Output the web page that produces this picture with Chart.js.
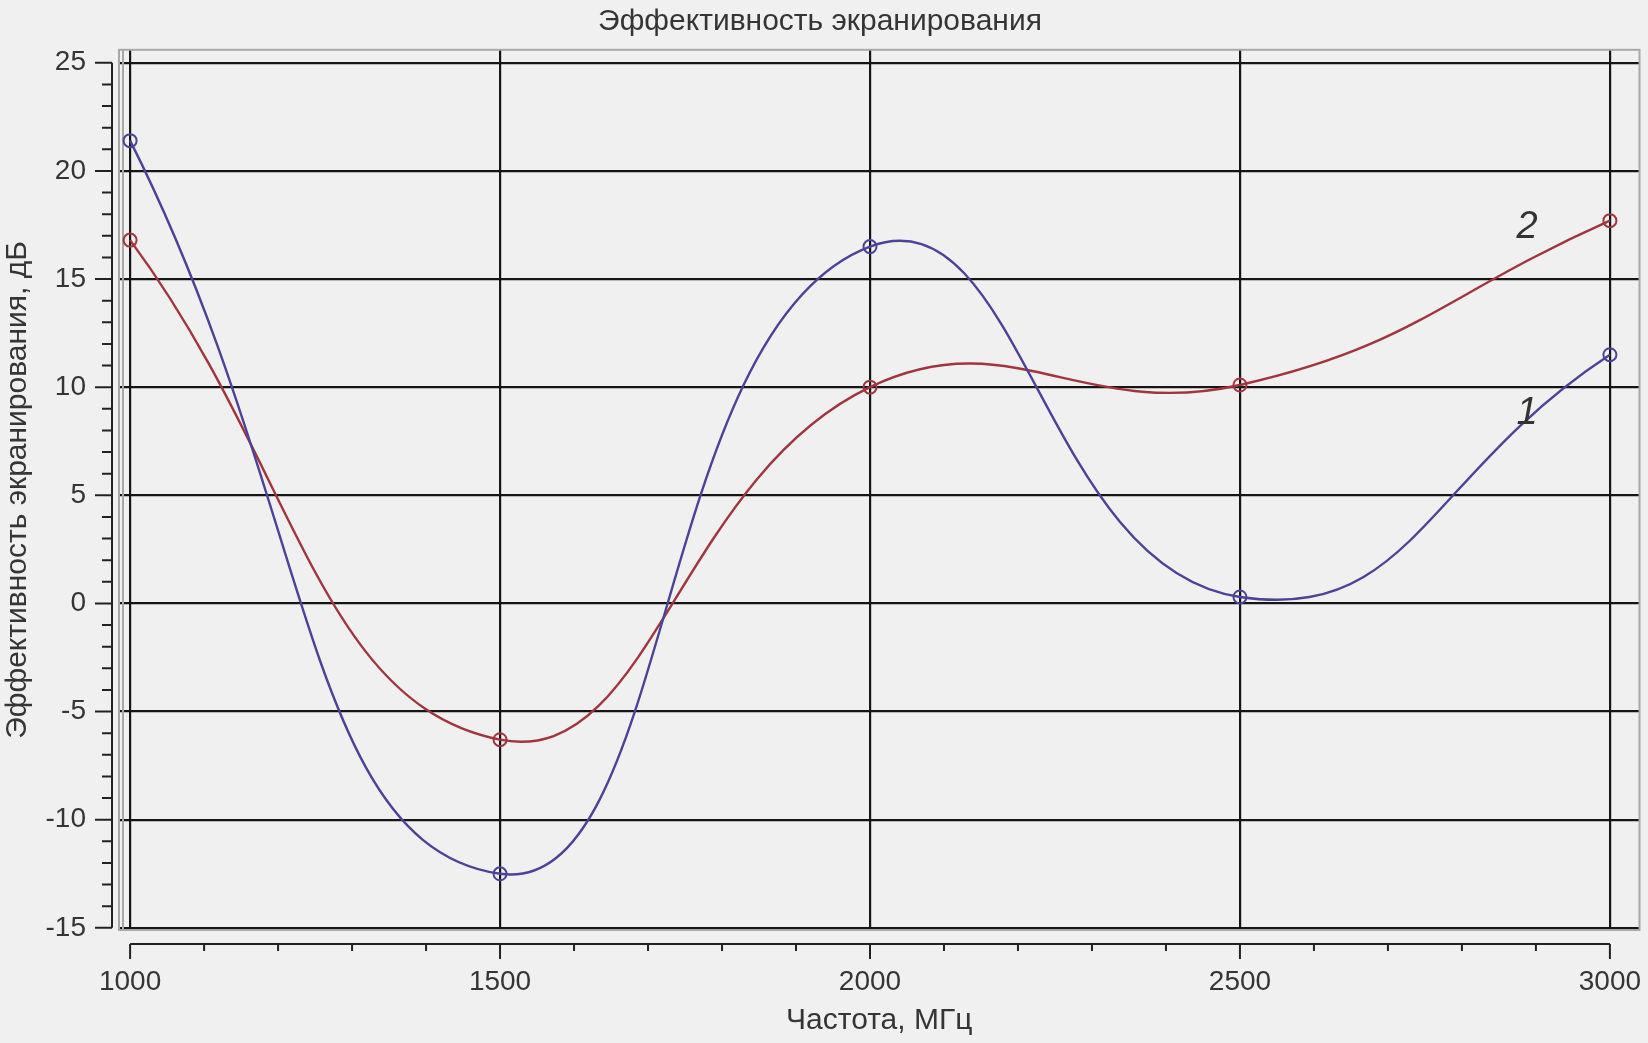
<!DOCTYPE html>
<html>
<head>
<meta charset="utf-8">
<script src="https://cdn.jsdelivr.net/npm/chart.js@4"></script>
<style>
  html, body { margin: 0; padding: 0; background: #f0f0f0; }
  #wrap { width: 1648px; height: 1043px; }
</style>
</head>
<body>
<div id="wrap"><canvas id="chart"></canvas></div>
<script>
// Frequency points, MHz
const freq = [1000, 1500, 2000, 2500, 3000];
// Curve 1 (blue) and curve 2 (red), dB
const curve1 = [21.4, -12.5, 16.5, 0.3, 11.5];
const curve2 = [16.8, -6.3, 10.0, 10.1, 17.7];
// Major tick values
const xTicks = [1000, 1500, 2000, 2500, 3000];
const yTicks = [-15, -10, -5, 0, 5, 10, 15, 20, 25];
// Curve number labels: text, x, y
const curveNames = ['1', '2'];
const curveNameX = [2888, 2888];
const curveNameY = [8.8, 17.4];

const FONT = "'Liberation Sans', Arial, sans-serif";
const TEXT = '#353535';

Chart.defaults.font.family = FONT;
Chart.defaults.color = TEXT;

// Frame, offset axes with minor ticks and the curve numbers
const decorations = {
    id: 'decorations',
    beforeDatasetsDraw(chart) {
        const { ctx, chartArea: a, scales: { x, y } } = chart;
        ctx.save();
        // gray frame around plot
        ctx.strokeStyle = '#a8a8a8';
        ctx.lineWidth = 2;
        ctx.strokeRect(a.left, a.top, a.right - a.left, a.bottom - a.top);
        ctx.beginPath();
        ctx.moveTo(a.left + 4, a.top);
        ctx.lineTo(a.left + 4, a.bottom);
        ctx.stroke();

        ctx.strokeStyle = '#222';
        ctx.lineWidth = 2;
        // y axis line
        const ax = a.left - 7;
        ctx.beginPath();
        ctx.moveTo(ax, y.getPixelForValue(25));
        ctx.lineTo(ax, y.getPixelForValue(-15));
        for (let v = -15; v <= 25; v++) {
            const py = y.getPixelForValue(v);
            const len = v % 5 === 0 ? 17 : 10;
            ctx.moveTo(ax, py);
            ctx.lineTo(ax - len, py);
        }
        ctx.stroke();

        // x axis line
        const ay = a.bottom + 14;
        ctx.beginPath();
        ctx.moveTo(x.getPixelForValue(1000), ay);
        ctx.lineTo(x.getPixelForValue(3000), ay);
        for (let v = 1000; v <= 3000; v += 100) {
            const px = x.getPixelForValue(v);
            const len = v % 500 === 0 ? 15 : 7;
            ctx.moveTo(px, ay);
            ctx.lineTo(px, ay + len);
        }
        ctx.stroke();
        ctx.restore();
    },
    afterDatasetsDraw(chart) {
        const { ctx, scales: { x, y } } = chart;
        ctx.save();
        ctx.fillStyle = '#333';
        ctx.font = 'italic 38px ' + FONT;
        ctx.textAlign = 'center';
        ctx.textBaseline = 'middle';
        curveNames.forEach((t, i) => {
            ctx.fillText(t, x.getPixelForValue(curveNameX[i]), y.getPixelForValue(curveNameY[i]));
        });
        ctx.restore();
    }
};

const toPoints = ys => freq.map((f, i) => ({ x: f, y: ys[i] }));

const lineStyle = (color, tension) => ({
    borderColor: color,
    borderWidth: 2.4,
    pointStyle: 'circle',
    pointRadius: 6.5,
    pointBorderWidth: 2,
    pointBorderColor: color,
    pointBackgroundColor: 'rgba(0,0,0,0)',
    tension: tension,
    fill: false
});

new Chart(document.getElementById('chart'), {
    type: 'line',
    data: {
        datasets: [
            { label: '1', data: toPoints(curve1), ...lineStyle('#4a4398', 0.5) },
            { label: '2', data: toPoints(curve2), ...lineStyle('#a2343e', 0.45) }
        ]
    },
    options: {
        responsive: true,
        maintainAspectRatio: false,
        animation: false,
        layout: { padding: { left: 0, right: 8, top: 0, bottom: 0 } },
        scales: {
            x: {
                type: 'linear',
                min: 985,
                max: 3040,
                afterBuildTicks: s => { s.ticks = xTicks.map(v => ({ value: v })); },
                afterFit: s => { s.height = 113; s.paddingLeft = 0; s.paddingRight = 0; },
                grid: { color: '#151515', lineWidth: 2.2, drawTicks: false },
                border: { display: false },
                ticks: {
                    color: TEXT,
                    font: { size: 28 },
                    padding: 35,
                    maxRotation: 0,
                    callback: v => String(v)
                },
                title: {
                    display: true,
                    text: 'Частота, МГц',
                    color: TEXT,
                    font: { size: 30 },
                    padding: { top: 0, bottom: 4 }
                }
            },
            y: {
                min: -15.1,
                max: 25.6,
                afterBuildTicks: s => { s.ticks = yTicks.map(v => ({ value: v })); },
                afterFit: s => { s.width = 119; },
                grid: { color: '#151515', lineWidth: 2.2, drawTicks: false },
                border: { display: false },
                ticks: { color: TEXT, font: { size: 28 }, padding: 33, callback: v => String(v) },
                title: {
                    display: true,
                    text: 'Эффективность экранирования, дБ',
                    color: TEXT,
                    font: { size: 30 },
                    padding: { top: 0, bottom: 0 }
                }
            }
        },
        plugins: {
            legend: { display: false },
            tooltip: { enabled: false },
            title: {
                display: true,
                text: 'Эффективность экранирования',
                color: TEXT,
                font: { size: 30, weight: 'normal' },
                padding: { top: 3, bottom: 10 }
            }
        }
    },
    plugins: [decorations]
});
</script>
</body>
</html>
